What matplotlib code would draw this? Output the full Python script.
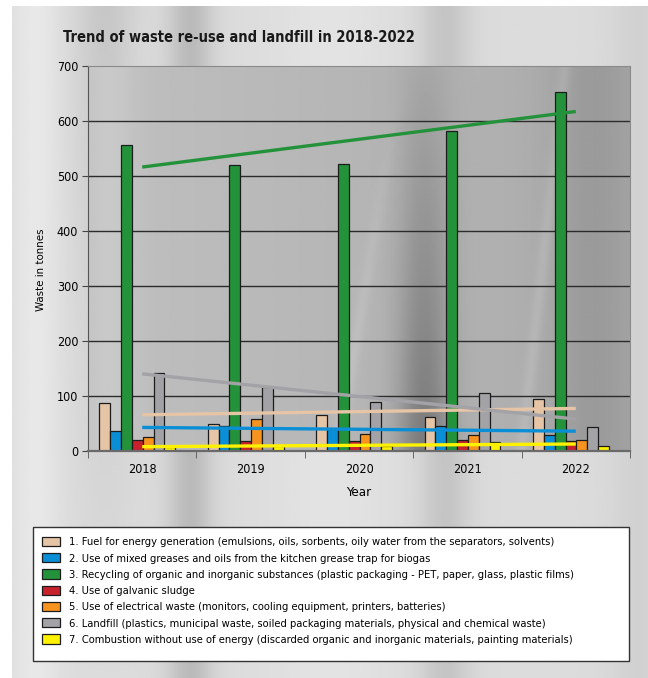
import numpy as np
import matplotlib.pyplot as plt
from matplotlib.patches import Patch, Rectangle

plt.rcParams['font.family'] = ['DejaVu Sans']
plt.rcParams['font.stretch'] = 'condensed'

# tonnes per year
years = ['2018', '2019', '2020', '2021', '2022']
fuel = [86, 48, 65, 61, 94]
greases = [36, 45, 40, 44, 28]
recycling = [557, 520, 522, 581, 653]
galvanic = [19, 17, 17, 19, 17]
electrical = [24, 57, 30, 28, 19]
landfill = [141, 115, 88, 105, 43]
combustion = [6, 8, 9, 16, 8]

series = [fuel, greases, recycling, galvanic, electrical, landfill, combustion]
labels = [
    '1. Fuel for energy generation (emulsions, oils, sorbents, oily water from the separators, solvents)',
    '2. Use of mixed greases and oils from the kitchen grease trap for biogas',
    '3. Recycling of organic and inorganic substances (plastic packaging - PET, paper, glass, plastic films)',
    '4. Use of galvanic sludge',
    '5. Use of electrical waste (monitors, cooling equipment, printers, batteries)',
    '6. Landfill (plastics, municipal waste, soiled packaging materials, physical and chemical waste)',
    '7. Combustion without use of energy (discarded organic and inorganic materials, painting materials)',
]
colors = ['#E6C4A6', '#0A8FD6', '#23923A', '#C6212D', '#F7931E', '#A3A3A7', '#FFF200']
has_trend = [True, True, True, False, False, True, True]

W, H = 648, 678
fig = plt.figure(figsize=(W / 100, H / 100), dpi=100)
fig.patch.set_facecolor('white')

# brushed metal backdrop for the whole panel
gx, gy = np.meshgrid(np.linspace(0, 1, 400), np.linspace(0, 1, 300))
px = 12 + gx * (W - 12)
panel = (0.86
         + 0.05 * np.exp(-((px - 35) / 25) ** 2)
         - 0.08 * np.exp(-((px - 105) / 30) ** 2) * (1 - gy)
         - 0.13 * np.exp(-((px - 190) / 22) ** 2)
         + 0.03 * np.exp(-((px - 330) / 60) ** 2)
         - 0.09 * np.exp(-((px - 445) / 25) ** 2)
         - 0.04 * np.exp(-((px - 640) / 30) ** 2))
bg = fig.add_axes([12 / W, 0, 1 - 12 / W, 1 - 6 / H], zorder=-10)
bg.imshow(panel, cmap='gray', vmin=0, vmax=1, aspect='auto', interpolation='bilinear')
bg.axis('off')

ax = fig.add_axes([88 / W, 1 - 450.5 / H, 542 / W, 384.5 / H])

# darker metal texture inside the plot area
ax_x, ax_y = np.meshgrid(np.linspace(0, 1, 400), np.linspace(0, 1, 300))
tex = (0.75 - 0.08 * ax_x
       + 0.04 * np.exp(-((ax_x - 0.04) / 0.05) ** 2)
       - 0.22 * np.exp(-((ax_x - 0.62) / 0.05) ** 2) * (0.2 + 0.8 * ax_y)
       - 0.07 * np.exp(-((ax_x - 0.93) / 0.08) ** 2)
       + 0.05 * np.exp(-((ax_x - 0.46 - 0.12 * (1 - ax_y)) / 0.012) ** 2) * ax_y
       + 0.04 * np.exp(-((ax_x - 0.80 - 0.08 * (1 - ax_y)) / 0.012) ** 2))
ax.imshow(tex, cmap='gray', vmin=0, vmax=1, aspect='auto', interpolation='bilinear',
          extent=(-0.5, 4.5, 0, 700), zorder=0)

for yv in range(100, 700, 100):
    ax.axhline(yv, color='#2b2b2b', lw=1, zorder=1)

x = np.arange(len(years))
w = 0.1
shift = -0.045
for j, (vals, c) in enumerate(zip(series, colors)):
    ax.bar(x + shift + (j - 3) * w, vals, w, color=c, edgecolor='#1c1c1c', lw=0.9, zorder=2)

for vals, c, t in zip(series, colors, has_trend):
    if not t:
        continue
    k, b = np.polyfit(x, vals, 1)
    ax.plot([0, 4], [b, 4 * k + b], color=c, lw=2.4, zorder=3, solid_capstyle='butt')

ax.set_xlim(-0.5, 4.5)
ax.set_ylim(0, 700)
ax.set_yticks(range(0, 701, 100))
ax.set_xticks(x)
ax.set_xticklabels(years)
ax.set_xticks(np.arange(-0.5, 5, 1), minor=True)
ax.tick_params(axis='y', length=4, color='#444444', labelsize=9, pad=3)
ax.tick_params(axis='x', which='major', length=0, labelsize=9, pad=9)
ax.tick_params(axis='x', which='minor', length=5, color='#555555')
for side in ['top', 'right']:
    ax.spines[side].set_color('#8a8a8a')
ax.spines['left'].set_color('#555555')
ax.spines['bottom'].set_color('#6a6a6a')
ax.spines['bottom'].set_linewidth(1.6)

fig.text(63 / W, 1 - 37 / H, 'Trend of waste re-use and landfill in 2018-2022',
         fontsize=10.5, weight='bold', va='center', color='#1a1a1a')
fig.text(359 / W, 1 - 493 / H, 'Year', ha='center', va='center', fontsize=9.5)
fig.text(41 / W, 1 - 270 / H, 'Waste in tonnes', ha='center', va='center',
         rotation=90, fontsize=8.2)

fig.add_artist(Rectangle((33 / W, 1 - 661 / H), 596 / W, 134 / H, transform=fig.transFigure,
                         facecolor='white', edgecolor='#333333', lw=1, zorder=5))
handles = [Patch(facecolor=c, edgecolor='#1c1c1c', lw=0.9) for c in colors]
leg = fig.legend(handles, labels, loc='upper left', bbox_to_anchor=(42 / W, 1 - 537 / H),
                 frameon=False, fontsize=8, handlelength=1.6, handleheight=0.9,
                 handletextpad=0.85, labelspacing=0.52, borderpad=0, borderaxespad=0)
leg.set_zorder(6)

fig.savefig('out.png', dpi=100)
